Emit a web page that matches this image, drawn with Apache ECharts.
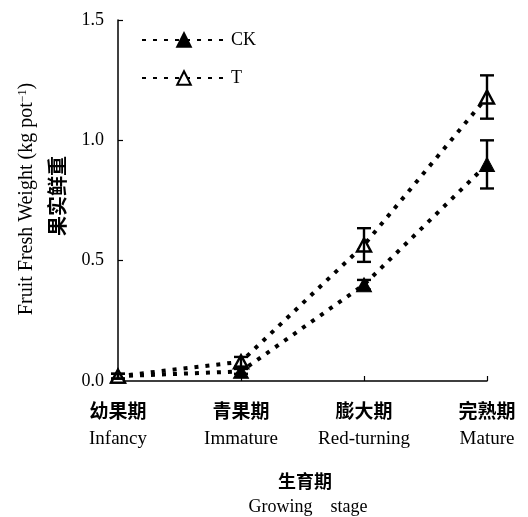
<!DOCTYPE html>
<html>
<head>
<meta charset="utf-8">
<script src="https://cdn.jsdelivr.net/npm/echarts@6/dist/echarts.min.js"></script>
<style>html,body{margin:0;padding:0;background:#fff;}#c{width:528px;height:517px;}</style>
</head>
<body>
<div id="c"></div>
<script>
const categoriesCn = ['幼果期', '青果期', '膨大期', '完熟期'];
const categoriesEn = ['Infancy', 'Immature', 'Red-turning', 'Mature'];
const ckValues = [0.02, 0.04, 0.40, 0.90];
const ckErrors = [0.01, 0.01, 0.02, 0.10];
const tValues = [0.02, 0.08, 0.565, 1.18];
const tErrors = [0.01, 0.02, 0.07, 0.09];
const yMin = 0, yMax = 1.5, yStep = 0.5;

const serif = '"Liberation Serif", "Times New Roman", serif';
const cjk = '"Noto Sans CJK SC", sans-serif';

function errData(vals, errs) {
  return vals.map((v, i) => [i, v - errs[i], v + errs[i]]);
}
function errSeries(vals, errs) {
  return {
    type: 'custom',
    data: errData(vals, errs),
    z: 5,
    silent: true,
    renderItem: function (params, api) {
      const x = api.value(0);
      const lo = api.coord([x, api.value(1)]);
      const hi = api.coord([x, api.value(2)]);
      const w = 7;
      const st = { stroke: '#000', lineWidth: 2.4 };
      return {
        type: 'group',
        children: [
          { type: 'line', shape: { x1: lo[0], y1: lo[1], x2: hi[0], y2: hi[1] }, style: st },
          { type: 'line', shape: { x1: lo[0] - w, y1: lo[1], x2: lo[0] + w, y2: lo[1] }, style: st },
          { type: 'line', shape: { x1: hi[0] - w, y1: hi[1], x2: hi[0] + w, y2: hi[1] }, style: st }
        ]
      };
    }
  };
}

const chart = echarts.init(document.getElementById('c'));
chart.setOption({
  backgroundColor: '#fff',
  animation: false,
  grid: { left: 118, right: 41, top: 20, bottom: 136, containLabel: false },
  legend: {
    orient: 'vertical',
    left: 136,
    top: 26,
    itemWidth: 84,
    itemHeight: 17,
    itemGap: 20,
    textStyle: { fontFamily: serif, fontSize: 18, color: '#000' },
    data: ['CK', 'T']
  },
  xAxis: {
    type: 'category',
    boundaryGap: false,
    data: categoriesCn.map((c, i) => c + '|' + categoriesEn[i]),
    axisLine: { lineStyle: { color: '#000', width: 1.5 } },
    axisTick: { inside: true, length: 5, lineStyle: { color: '#000', width: 1.2 } },
    axisLabel: {
      margin: 17,
      interval: 0,
      formatter: function (v) {
        const p = v.split('|');
        return '{cn|' + p[0] + '}\n{en|' + p[1] + '}';
      },
      rich: {
        cn: { fontFamily: cjk, fontWeight: 'bold', fontSize: 19, color: '#000', lineHeight: 26 },
        en: { fontFamily: serif, fontSize: 19, color: '#000', lineHeight: 30 }
      }
    }
  },
  yAxis: {
    type: 'value',
    min: yMin, max: yMax, interval: yStep,
    axisLine: { show: true, lineStyle: { color: '#000', width: 1.5 } },
    axisTick: { show: true, inside: true, length: 5, lineStyle: { color: '#000', width: 1.2 } },
    splitLine: { show: false },
    axisLabel: {
      margin: 14,
      fontFamily: serif, fontSize: 18, color: '#000',
      formatter: v => v.toFixed(1)
    }
  },
  graphic: [
    {
      type: 'text', x: 27, y: 199, rotation: Math.PI / 2,
      style: {
        text: 'Fruit Fresh Weight (kg pot{sup|−1})',
        fontFamily: serif, fontSize: 20, fill: '#000',
        align: 'center', verticalAlign: 'middle',
        rich: { sup: { fontFamily: serif, fontSize: 12, verticalAlign: 'top', padding: [0, 0, 9, 0] } }
      }
    },
    {
      type: 'text', x: 57, y: 196, rotation: Math.PI / 2,
      style: {
        text: '果实鲜重',
        fontFamily: cjk, fontWeight: 'bold', fontSize: 20, fill: '#000',
        align: 'center', verticalAlign: 'middle'
      }
    },
    {
      type: 'text', x: 305, y: 481,
      style: { text: '生育期', fontFamily: cjk, fontWeight: 'bold', fontSize: 18, fill: '#000', align: 'center', verticalAlign: 'middle' }
    },
    {
      type: 'text', x: 308, y: 507,
      style: { text: 'Growing    stage', fontFamily: serif, fontSize: 18, fill: '#000', align: 'center', verticalAlign: 'middle' }
    }
  ],
  series: [
    {
      name: 'CK', type: 'line', data: ckValues, z: 3,
      symbol: 'triangle', symbolSize: [15, 14],
      lineStyle: { color: '#000', width: 4, type: [4, 7] },
      itemStyle: { color: '#000', borderColor: '#000', borderWidth: 1 }
    },
    {
      name: 'T', type: 'line', data: tValues, z: 3,
      symbol: 'triangle', symbolSize: [14, 13],
      lineStyle: { color: '#000', width: 4, type: [4, 7] },
      itemStyle: { color: '#fff', borderColor: '#000', borderWidth: 2.4 }
    },
    errSeries(ckValues, ckErrors),
    errSeries(tValues, tErrors)
  ]
});
</script>
</body>
</html>
